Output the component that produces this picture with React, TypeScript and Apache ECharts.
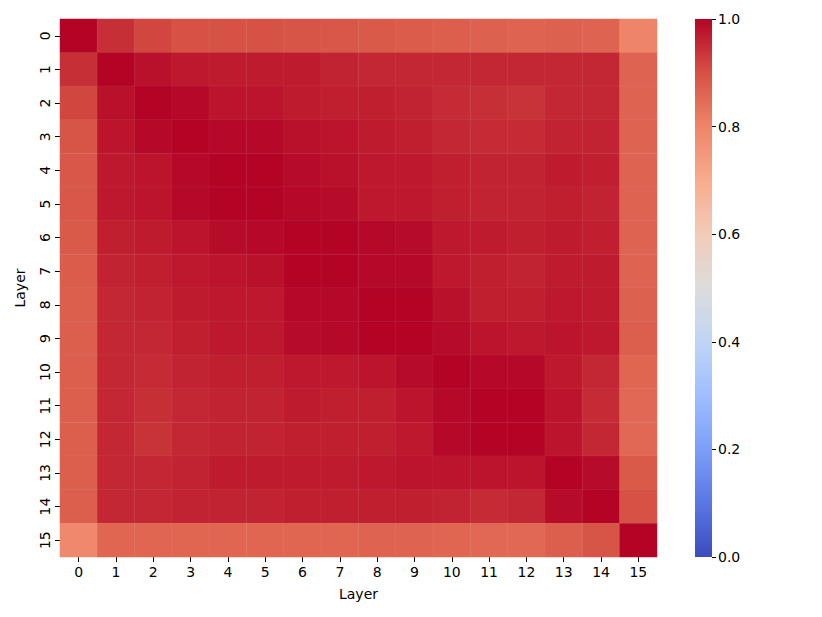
import React, { useEffect, useRef } from "react";
import * as echarts from "echarts";

const layers = ["0","1","2","3","4","5","6","7","8","9","10","11","12","13","14","15"];
const colorbarTicks = [0, 0.2, 0.4, 0.6, 0.8, 1.0];
const coolwarm = ["#3b4cc0","#5977e3","#7b9ff9","#9ebeff","#c0d4f5","#dddcdc","#f2cbb7","#f7ac8e","#ee8468","#d65244","#b40426"];

const row0 = [1.0, 0.945, 0.915, 0.9, 0.9, 0.9, 0.895, 0.89, 0.885, 0.88, 0.875, 0.87, 0.865, 0.87, 0.865, 0.8];
const row1 = [0.945, 1.0, 0.985, 0.975, 0.97, 0.97, 0.97, 0.96, 0.955, 0.955, 0.955, 0.955, 0.955, 0.955, 0.955, 0.865];
const row2 = [0.915, 0.985, 1.0, 0.995, 0.98, 0.98, 0.97, 0.965, 0.965, 0.96, 0.95, 0.945, 0.94, 0.955, 0.955, 0.865];
const row3 = [0.895, 0.98, 0.995, 1.0, 0.995, 0.995, 0.985, 0.98, 0.97, 0.965, 0.955, 0.95, 0.95, 0.96, 0.96, 0.865];
const row4 = [0.89, 0.975, 0.98, 0.995, 1.0, 1.0, 0.99, 0.985, 0.975, 0.975, 0.965, 0.96, 0.96, 0.97, 0.965, 0.865];
const row5 = [0.89, 0.975, 0.98, 0.995, 1.0, 1.0, 0.995, 0.99, 0.975, 0.975, 0.965, 0.96, 0.96, 0.965, 0.96, 0.865];
const row6 = [0.885, 0.965, 0.97, 0.98, 0.99, 0.995, 1.0, 1.0, 0.995, 0.99, 0.975, 0.97, 0.965, 0.97, 0.965, 0.865];
const row7 = [0.88, 0.96, 0.965, 0.975, 0.98, 0.985, 1.0, 1.0, 0.995, 0.995, 0.975, 0.965, 0.96, 0.97, 0.97, 0.865];
const row8 = [0.875, 0.955, 0.96, 0.97, 0.975, 0.975, 0.995, 0.995, 1.0, 1.0, 0.985, 0.965, 0.965, 0.975, 0.97, 0.87];
const row9 = [0.875, 0.955, 0.955, 0.965, 0.975, 0.975, 0.99, 0.995, 1.0, 1.0, 0.99, 0.98, 0.975, 0.98, 0.975, 0.875];
const row10 = [0.875, 0.955, 0.95, 0.96, 0.965, 0.965, 0.975, 0.975, 0.98, 0.99, 1.0, 0.995, 0.995, 0.975, 0.955, 0.86];
const row11 = [0.875, 0.955, 0.945, 0.955, 0.96, 0.96, 0.97, 0.965, 0.965, 0.98, 0.995, 1.0, 1.0, 0.98, 0.95, 0.855];
const row12 = [0.875, 0.955, 0.94, 0.955, 0.96, 0.96, 0.965, 0.965, 0.965, 0.975, 0.995, 1.0, 1.0, 0.98, 0.955, 0.855];
const row13 = [0.875, 0.955, 0.955, 0.96, 0.97, 0.97, 0.97, 0.97, 0.975, 0.98, 0.98, 0.98, 0.98, 1.0, 0.99, 0.885];
const row14 = [0.875, 0.955, 0.955, 0.96, 0.96, 0.96, 0.965, 0.965, 0.965, 0.965, 0.96, 0.95, 0.955, 0.99, 1.0, 0.9];
const row15 = [0.79, 0.86, 0.86, 0.86, 0.86, 0.86, 0.86, 0.86, 0.865, 0.865, 0.86, 0.855, 0.855, 0.875, 0.895, 1.0];

const matrix = [row0,row1,row2,row3,row4,row5,row6,row7,row8,row9,row10,row11,row12,row13,row14,row15];

const FONT = "DejaVu Sans";

export default function App() {
  const ref = useRef<HTMLDivElement>(null);
  useEffect(() => {
    if (!ref.current) return;
    const chart = echarts.init(ref.current, undefined, { renderer: "svg" });
    const data: number[][] = [];
    matrix.forEach((row, r) => row.forEach((v, c) => data.push([c, r, v])));
    const stops = coolwarm.map((c, i) => ({ offset: i / (coolwarm.length - 1), color: c }));
    chart.setOption({
      animation: false,
      backgroundColor: "#ffffff",
      textStyle: { fontFamily: FONT },
      grid: [
        { left: 60, top: 19, width: 597, height: 538 },
        { left: 695, top: 19, width: 17, height: 538 },
      ],
      xAxis: [
        {
          type: "category", data: layers, gridIndex: 0,
          name: "Layer", nameLocation: "middle", nameGap: 30,
          nameTextStyle: { fontSize: 14, color: "#000", fontFamily: FONT },
          axisLine: { show: false },
          axisTick: { show: true, alignWithLabel: true, length: 5, lineStyle: { color: "#000" } },
          axisLabel: { fontSize: 14, color: "#000", margin: 8, fontFamily: FONT },
          splitLine: { show: false },
        },
        { type: "category", data: ["c"], gridIndex: 1, show: false },
      ],
      yAxis: [
        {
          type: "category", data: layers, gridIndex: 0, inverse: true,
          name: "Layer", nameLocation: "middle", nameGap: 33, nameRotate: 90,
          nameTextStyle: { fontSize: 14, color: "#000", fontFamily: FONT },
          axisLine: { show: false },
          axisTick: { show: true, alignWithLabel: true, length: 5, lineStyle: { color: "#000" } },
          axisLabel: { fontSize: 14, color: "#000", rotate: 90, margin: 8, fontFamily: FONT },
          splitLine: { show: false },
        },
        {
          type: "value", gridIndex: 1, min: 0, max: 1, interval: 0.2, position: "right",
          axisLine: { show: false },
          axisTick: { show: true, length: 4, lineStyle: { color: "#000" } },
          axisLabel: { fontSize: 14, color: "#000", margin: 6, fontFamily: FONT, formatter: (v: number) => v.toFixed(1) },
          splitLine: { show: false },
        },
      ],
      visualMap: {
        show: false, min: 0, max: 1, seriesIndex: 0, dimension: 2,
        inRange: { color: coolwarm },
      },
      series: [
        {
          type: "heatmap", xAxisIndex: 0, yAxisIndex: 0, data,
          itemStyle: { borderColor: "rgba(255,255,255,0.1)", borderWidth: 0.5 },
          emphasis: { disabled: true },
        },
        {
          type: "bar", xAxisIndex: 1, yAxisIndex: 1, data: [1], barWidth: "100%",
          itemStyle: { color: new echarts.graphic.LinearGradient(0, 1, 0, 0, stops) },
          silent: true,
        },
      ],
    });
    return () => chart.dispose();
  }, []);
  return <div ref={ref} style={{ position: "absolute", left: 0, top: 0, width: 822, height: 617 }} />;
}
